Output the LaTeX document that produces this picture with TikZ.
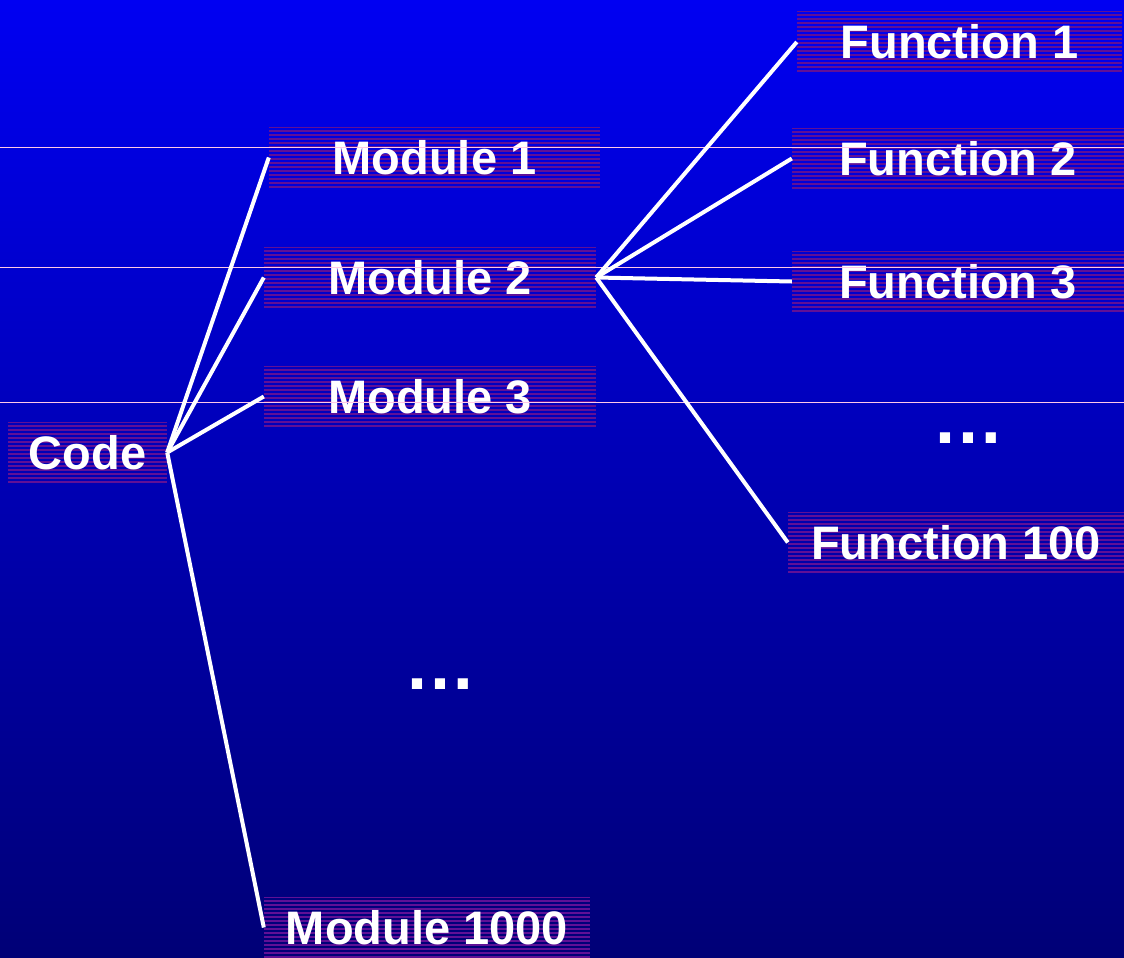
\documentclass[tikz,border=0pt]{standalone}
\usepackage{fontspec}
\setmainfont{Liberation Sans}
\definecolor{bgtop}{RGB}{0,0,242}
\definecolor{bgbot}{RGB}{0,0,118}
\definecolor{stripecol}{RGB}{96,16,150}
\definecolor{hairpink}{RGB}{255,200,230}
\tikzset{
  lbl/.style={inner sep=0pt, text=white, font=\fontsize{47}{50}\selectfont\bfseries,
    minimum height=61pt,
    path picture={\foreach \k in {0,...,15}{\draw[stripecol, line width=2pt]
      ([yshift=\k*4pt+1pt]path picture bounding box.south west) --
      ([yshift=\k*4pt+1pt]path picture bounding box.south east);}}},
  dots/.style={inner sep=0pt, text=white, font=\fontsize{72}{72}\selectfont\bfseries, anchor=base},
  conn/.style={white, line width=4pt},
  hair/.style={hairpink, line width=1pt}
}
\begin{document}
\begin{tikzpicture}[x=1pt,y=-1pt]
\useasboundingbox (0,0) rectangle (1124,958);
\shade[top color=bgtop, bottom color=bgbot] (0,0) rectangle (1124,958);
\node[lbl, minimum width=159pt] (code) at (87.5,452.5) {Code};
\node[lbl, minimum width=331pt] (m1) at (434.5,157.5) {Module 1};
\node[lbl, minimum width=332pt] (m2) at (430,277.5) {Module 2};
\node[lbl, minimum width=332pt] (m3) at (430,396.5) {Module 3};
\node[lbl, minimum width=326pt] (m1000) at (427,927.5) {Module 1000};
\node[lbl, minimum width=325pt] (f1) at (959.5,42) {Function 1};
\node[lbl, minimum width=332pt] (f2) at (958,158.5) {Function 2};
\node[lbl, minimum width=332pt] (f3) at (958,281.5) {Function 3};
\node[lbl, minimum width=336pt] (f100) at (956,542.5) {Function 100};
\coordinate (h1a) at (0,147); \coordinate (h1b) at (1124,147);
\coordinate (h2a) at (0,267); \coordinate (h2b) at (1124,267);
\coordinate (h3a) at (0,402); \coordinate (h3b) at (1124,402);
\draw[hair] (h1a) -- (h1b);
\draw[hair] (h2a) -- (h2b);
\draw[hair] (h3a) -- (h3b);
\node[dots] (d1) at (440,689) {…};
\node[dots] (d2) at (968,443) {…};
\draw[conn] (code.east) -- (m1.west);
\draw[conn] (code.east) -- (m2.west);
\draw[conn] (code.east) -- (m3.west);
\draw[conn] (code.east) -- (m1000.west);
\draw[conn] (m2.east) -- (f1.west);
\draw[conn] (m2.east) -- (f2.west);
\draw[conn] (m2.east) -- (f3.west);
\draw[conn] (m2.east) -- (f100.west);
\end{tikzpicture}
\end{document}
